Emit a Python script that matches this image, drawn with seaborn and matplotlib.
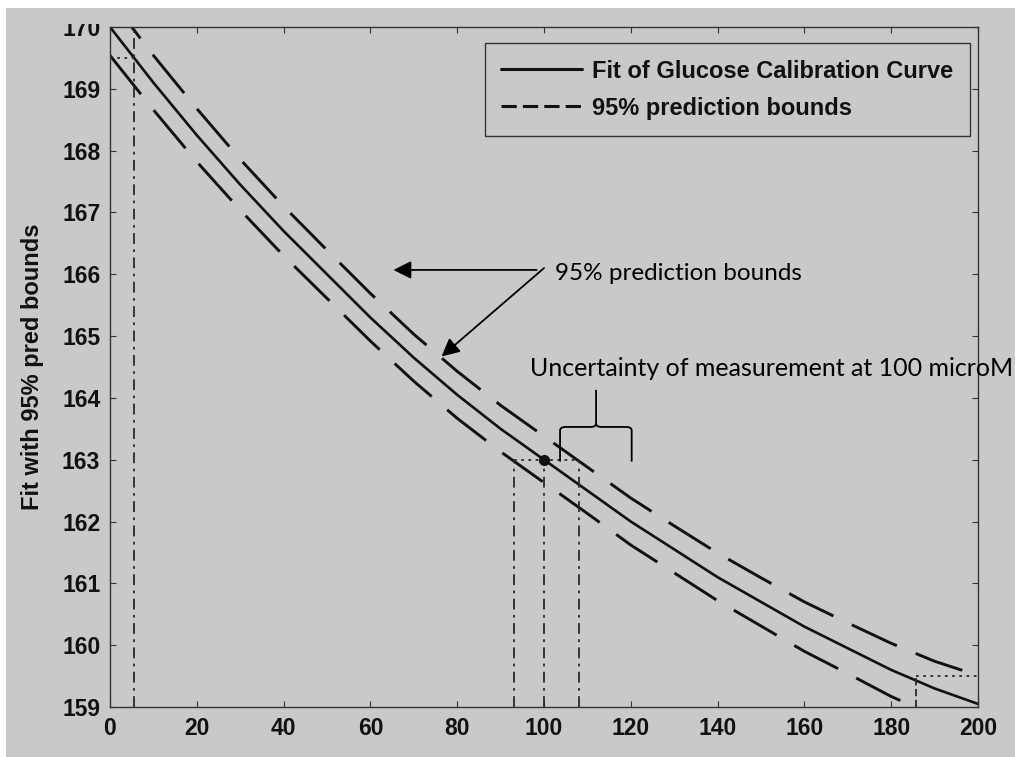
import matplotlib
matplotlib.use("Agg")
import matplotlib.pyplot as plt
from matplotlib.path import Path
from matplotlib.patches import PathPatch, Rectangle
import pandas as pd
import seaborn as sns

# Glucose calibration: fitted signal and 95% prediction bounds vs concentration (microM)
conc = [0, 10, 20, 30, 40, 50, 60, 70, 80, 90, 100,
        110, 120, 130, 140, 150, 160, 170, 180, 190, 200]
fit = [170.0, 169.1, 168.25, 167.45, 166.7, 166.0, 165.3, 164.65, 164.05, 163.5, 163.0,
       162.5, 162.0, 161.55, 161.1, 160.7, 160.3, 159.95, 159.6, 159.3, 159.05]
upper = [170.46, 169.54, 168.68, 167.86, 167.10, 166.39, 165.69, 165.03, 164.43, 163.88, 163.38,
         162.88, 162.38, 161.93, 161.49, 161.09, 160.70, 160.36, 160.03, 159.74, 159.51]
lower = [169.54, 168.66, 167.82, 167.04, 166.30, 165.61, 164.92, 164.27, 163.67, 163.13, 162.63,
         162.13, 161.62, 161.17, 160.72, 160.31, 159.90, 159.54, 159.17, 158.86, 158.59]

x_ticks = [0, 20, 40, 60, 80, 100, 120, 140, 160, 180, 200]
y_ticks = [159, 160, 161, 162, 163, 164, 165, 166, 167, 168, 169, 170]
x_range = (0, 200)
y_range = (159, 170)

# inverse prediction of a 100 microM sample
meas_conc = 100
meas_signal = 163.0
meas_conc_lo = 93
meas_conc_hi = 108

# limits of the usable range at both ends of the curve
low_end_conc = 5.5
low_end_signal = 169.5
high_end_conc = 185.8
high_end_signal = 159.5

BG = "#c9c9c9"
INK = "#111111"
W, H = 1015, 757

sns.set_theme(style="ticks")
plt.rcParams["font.family"] = ["Liberation Sans", "DejaVu Sans"]

fig = plt.figure(figsize=(W / 100, H / 100), dpi=100, facecolor=BG)
ax = fig.add_axes([110 / W, 1 - 707 / H, 868 / W, 680 / H])
ax.set_facecolor(BG)

df = pd.DataFrame({"conc": conc, "fit": fit, "upper": upper, "lower": lower})
dash = (0, (17, 7))
sns.lineplot(data=df, x="conc", y="fit", ax=ax, color=INK, lw=1.9,
             label="Fit of Glucose Calibration Curve")
sns.lineplot(data=df, x="conc", y="upper", ax=ax, color=INK, lw=2.1,
             label="95% prediction bounds")
sns.lineplot(data=df, x="conc", y="lower", ax=ax, color=INK, lw=2.1,
             label="_nolegend_")
lines = ax.get_lines()
lines[1].set_linestyle(dash)
lines[2].set_linestyle(dash)

# construction lines
ref = dict(color="#2a2a2a", lw=1.3)
dashdot = (0, (6, 3, 1.5, 3))
ax.vlines(low_end_conc, y_range[0], y_range[1], linestyles=[dashdot], **ref)
ax.hlines(low_end_signal, x_range[0], low_end_conc, linestyles=[(0, (1.5, 2.5))], **ref)
ax.vlines([meas_conc_lo, meas_conc, meas_conc_hi], y_range[0], meas_signal,
          linestyles=[dashdot], **ref)
ax.hlines(meas_signal, meas_conc_lo, meas_conc_hi, linestyles=[(0, (1.5, 2.5))], **ref)
ax.vlines(high_end_conc, y_range[0], high_end_signal, linestyles=[(0, (4, 2))], **ref)
ax.hlines(high_end_signal, high_end_conc, x_range[1], linestyles=[(0, (1.5, 2.5))], **ref)
ax.plot([meas_conc], [meas_signal], "o", color=INK, ms=7, zorder=5)

ax.set_xlim(*x_range)
ax.set_ylim(*y_range)
ax.set_xticks(x_ticks)
ax.set_yticks(y_ticks)
ax.tick_params(direction="in", length=4.5, width=0.8, top=True, right=True,
               labelsize=16.5, pad=7, color="#333333", labelcolor=INK)
for lab in ax.get_xticklabels() + ax.get_yticklabels():
    lab.set_fontweight("bold")
for s in ax.spines.values():
    s.set_visible(True)
    s.set_color("#333333")
    s.set_linewidth(1.0)

ax.set_xlabel("")
ax.set_ylabel("Fit with 95% pred bounds", fontsize=17, fontweight="bold", color=INK)
ax.yaxis.set_label_coords((44 - 110) / 868, 0.5)

leg = ax.legend(loc="upper right", bbox_to_anchor=(1 - 8 / 868, 1 - 16 / 680),
                prop={"family": "Liberation Sans", "weight": "bold", "size": 17},
                frameon=True, fancybox=False, framealpha=1, facecolor=BG,
                edgecolor="#333333", handlelength=3.4, handletextpad=0.45,
                borderpad=0.7, labelspacing=0.6, borderaxespad=0)
leg.get_frame().set_linewidth(1.0)
for t in leg.get_texts():
    t.set_color(INK)
leg_lines = leg.get_lines()
leg_lines[0].set_linewidth(2.2)
leg_lines[1].set_linestyle((0, (5, 2)))
leg_lines[1].set_linewidth(2.2)

# callouts
note_font = dict(family=["Lato", "DejaVu Sans"], size=17.5, color="black")
ax.text(102.5, 166.02, "95% prediction bounds", ha="left", va="center", **note_font)
arrow = dict(arrowstyle="-|>,head_length=0.8,head_width=0.4", color="black",
             lw=1.3, mutation_scale=13.5, shrinkA=0, shrinkB=0)
ax.annotate("", xy=(65.3, 166.07), xytext=(98.3, 166.07), arrowprops=arrow)
ax.annotate("", xy=(76.4, 164.67), xytext=(100.0, 166.1), arrowprops=arrow)

ax.text(96.8, 164.47, "Uncertainty of measurement at 100 microM", ha="left",
        va="center", clip_on=False, family=["Lato", "DejaVu Sans"], size=18,
        color="black")

# curly brace over the concentration interval
xl, xr, xc = 103.7, 120.2, 112.0
yb, ya, yt = 162.97, 163.53, 164.13
rx, ry = 1.2, 0.06
verts = [(xl, yb), (xl, ya - ry), (xl, ya), (xl + rx, ya), (xc - rx, ya),
         (xc, ya), (xc, ya + ry), (xc, yt),
         (xr, yb), (xr, ya - ry), (xr, ya), (xr - rx, ya), (xc + rx, ya),
         (xc, ya), (xc, ya + ry)]
codes = [Path.MOVETO, Path.LINETO, Path.CURVE3, Path.CURVE3, Path.LINETO,
         Path.CURVE3, Path.CURVE3, Path.LINETO,
         Path.MOVETO, Path.LINETO, Path.CURVE3, Path.CURVE3, Path.LINETO,
         Path.CURVE3, Path.CURVE3]
ax.add_patch(PathPatch(Path(verts, codes), fill=False, lw=1.3, ec="black",
                       transform=ax.transData, clip_on=False, zorder=6))

# paper edge of the scanned page
fig.patches.append(Rectangle((0, 1 - 24 / H), 108 / W, 16 / H, transform=fig.transFigure,
                             fc=BG, ec="none", zorder=20))
fig.patches.append(Rectangle((0, 1 - 8 / H), 1, 8 / H, transform=fig.transFigure,
                             fc="white", ec="none", zorder=21))
fig.patches.append(Rectangle((0, 0), 6 / W, 1, transform=fig.transFigure,
                             fc="white", ec="none", zorder=21))

fig.savefig("out.png", dpi=100, facecolor=BG)
